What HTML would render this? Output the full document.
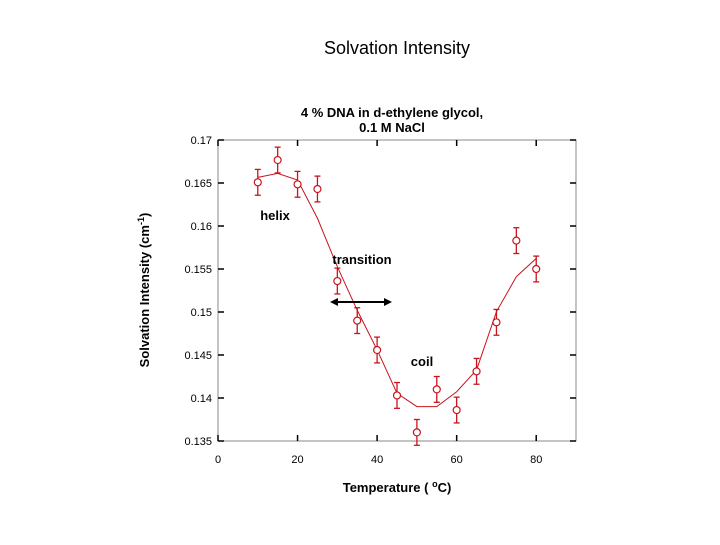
<!DOCTYPE html>
<html><head><meta charset="utf-8"><style>
body{margin:0;background:#fff;font-family:"Liberation Sans",Arial,sans-serif}
</style></head><body>
<svg width="720" height="540" xmlns="http://www.w3.org/2000/svg">
<text x="397" y="54" font-size="18" text-anchor="middle">Solvation Intensity</text>
<text x="392" y="117" font-size="13" font-weight="bold" text-anchor="middle">4 % DNA in d-ethylene glycol,</text>
<text x="392" y="132" font-size="13" font-weight="bold" text-anchor="middle">0.1 M NaCl</text>
<rect x="218" y="140" width="358" height="301" fill="none" stroke="#888" stroke-width="1"/>
<g id="ticks"></g>
<g id="marks"></g>
<text x="275" y="220" font-size="13" font-weight="bold" text-anchor="middle">helix</text>
<text x="362" y="264" font-size="13" font-weight="bold" text-anchor="middle">transition</text>
<text x="422" y="366" font-size="13" font-weight="bold" text-anchor="middle">coil</text>
<g>
<line x1="334" y1="302" x2="388" y2="302" stroke="#000" stroke-width="2"/>
<polygon points="330,302 338,298 338,306" fill="#000"/>
<polygon points="392,302 384,298 384,306" fill="#000"/>
</g>
<text transform="translate(149,290) rotate(-90)" font-size="13" font-weight="bold" text-anchor="middle">Solvation Intensity (cm<tspan baseline-shift="super" font-size="9">-1</tspan>)</text>
<text x="397" y="492" font-size="13" font-weight="bold" text-anchor="middle">Temperature ( <tspan baseline-shift="super" font-size="9">o</tspan>C)</text>
<script>
const temps=[10,15,20,25,30,35,40,45,50,55,60,65,70,75,80];
const intensity=[0.16508,0.16767,0.16485,0.1643,0.1536,0.1490,0.14558,0.1403,0.1360,0.1410,0.1386,0.1431,0.1488,0.1583,0.1550];
const errors=[0.0015,0.0015,0.0015,0.0015,0.0015,0.0015,0.0015,0.0015,0.0015,0.0015,0.0015,0.0015,0.0015,0.0015,0.0015];
const fitValues=[0.16566,0.16612,0.16535,0.1609,0.15527,0.1502,0.1456,0.14055,0.1390,0.1390,0.14073,0.14326,0.15004,0.1541,0.15624];
const xTicks=[0,20,40,60,80];
const yTicks=[0.135,0.14,0.145,0.15,0.155,0.16,0.165,0.17];
const yTickLabels=["0.135","0.14","0.145","0.15","0.155","0.16","0.165","0.17"];
const NS="http://www.w3.org/2000/svg";
const X=v=>218+(v-0)*(358/90);
const Y=v=>140+(0.17-v)*(301/0.035);
function mk(t,a,p){const e=document.createElementNS(NS,t);for(const k in a)e.setAttribute(k,a[k]);p.appendChild(e);return e;}
const tg=document.getElementById('ticks');
xTicks.forEach(v=>{
 const l=mk('line',{x1:X(v),x2:X(v),y1:140,y2:146,stroke:'#000','stroke-width':1.5},tg);
 
 
 const l2=mk('line',{x1:X(v),x2:X(v),y1:441,y2:435,stroke:'#000','stroke-width':1.5},tg);
 
 
 const t=mk('text',{x:X(v),y:463,'font-size':11,'text-anchor':'middle'},tg);t.textContent=v;
 
 
});
yTicks.forEach((v,i)=>{
 const l=mk('line',{x1:218,x2:224,y1:Y(v),y2:Y(v),stroke:'#000','stroke-width':1.5},tg);
 
 
 const l2=mk('line',{x1:576,x2:570,y1:Y(v),y2:Y(v),stroke:'#000','stroke-width':1.5},tg);
 
 
 const t=mk('text',{x:212,y:Y(v)+4,'font-size':11,'text-anchor':'end'},tg);t.textContent=yTickLabels[i];
 
 
});
const mg=document.getElementById('marks');
const fit=mk('polyline',{points:temps.map((t,i)=>X(t)+','+Y(fitValues[i])).join(' '),fill:'none',stroke:'#c8141e','stroke-width':1},mg);


temps.forEach((t,i)=>{
 const g=mk('g',{},mg);
 
 
 const x=X(t),y=Y(intensity[i]),y1=Y(intensity[i]+errors[i]),y2=Y(intensity[i]-errors[i]);
 mk('line',{x1:x,x2:x,y1:y1,y2:y2,stroke:'#c8141e','stroke-width':1.3},g);
 mk('line',{x1:x-3,x2:x+3,y1:y1,y2:y1,stroke:'#c8141e','stroke-width':1.3},g);
 mk('line',{x1:x-3,x2:x+3,y1:y2,y2:y2,stroke:'#c8141e','stroke-width':1.3},g);
 mk('circle',{cx:x,cy:y,r:3.5,fill:'#fff',stroke:'#c8141e','stroke-width':1.2},g);
});
</script>
</svg>
</body></html>
